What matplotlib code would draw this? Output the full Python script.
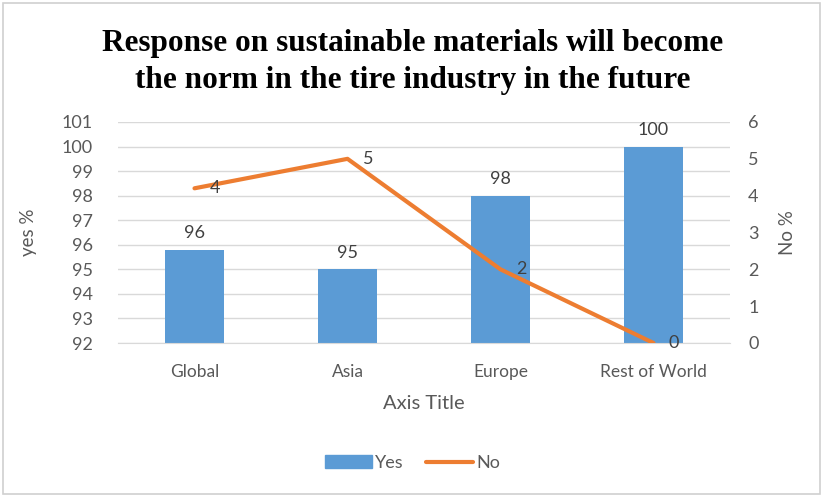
import matplotlib
matplotlib.use("Agg")
import matplotlib.pyplot as plt
from matplotlib.patches import Rectangle

categories = ["Global", "Asia", "Europe", "Rest of World"]
yes_pct = [95.8, 95, 98, 100]
no_pct = [4.2, 5, 2, 0]
yes_ticks = list(range(92, 102))
no_ticks = list(range(0, 7))

BLUE = "#5B9BD5"
ORANGE = "#ED7D31"
GRID = "#D9D9D9"
TICK = "#595959"
LABEL = "#404040"
FONT = ["Lato", "DejaVu Sans"]

plt.rcParams["font.family"] = FONT

fig = plt.figure(figsize=(8.25, 4.97), dpi=100)
ax = fig.add_axes([118 / 825, 1 - 343 / 497, (730 - 118) / 825, (343 - 122) / 497])
ax2 = ax.twinx()

x = list(range(len(categories)))
ax.bar(x, yes_pct, width=0.39, color=BLUE, zorder=2)
ax.set_ylim(92, 101)
ax.set_xlim(-0.5, len(categories) - 0.5)
ax.set_yticks(yes_ticks)
ax.grid(axis="y", color=GRID, linewidth=1, zorder=0)
ax.set_axisbelow(True)
for xi, v in zip(x, yes_pct):
    ax.text(xi, v + 0.35, f"{v:.0f}", ha="center", va="bottom",
            fontsize=13, color=LABEL, zorder=5)

ax2.plot(x, no_pct, color=ORANGE, linewidth=3, solid_capstyle="round", zorder=4)
ax2.set_ylim(0, 6)
ax2.set_yticks(no_ticks)
for xi, v in zip(x, no_pct):
    ax2.text(xi + 0.1, v, f"{v:.0f}", ha="left", va="center",
             fontsize=13, color=LABEL, zorder=5)

for a in (ax, ax2):
    for s in a.spines.values():
        s.set_visible(False)
    a.tick_params(length=0, colors=TICK, labelsize=13)
ax.spines["bottom"].set_visible(True)
ax.spines["bottom"].set_color(GRID)
ax.set_xticks(x)
ax.set_xticklabels(categories)
ax.tick_params(axis="x", pad=15, labelsize=12.5)
ax.tick_params(axis="y", pad=18)
ax2.yaxis.set_tick_params(which="major", pad=13, right=True, labelright=True)

ax.set_xlabel("Axis Title", fontsize=14.5, color=TICK, labelpad=11)
ax.set_ylabel("yes %", fontsize=13.5, color=TICK, labelpad=18)
ax2.set_ylabel("No %", fontsize=13.5, color=TICK, labelpad=15)

fig.text(0.5, 1 - 62 / 497,
         "Response on sustainable materials will become\nthe norm in the tire industry in the future",
         ha="center", va="center", fontsize=22.5, fontweight="bold",
         family=["Liberation Serif", "DejaVu Serif"], color="black", linespacing=1.32)

# legend
handles = [Rectangle((0, 0), 1, 1, color=BLUE),
           plt.Line2D([0], [0], color=ORANGE, linewidth=3, solid_capstyle="round")]
fig.legend(handles, ["Yes", "No"], loc="center", bbox_to_anchor=(0.5, 1 - 463 / 497),
           ncol=2, frameon=False, fontsize=13, labelcolor=TICK,
           handlelength=2.6, handleheight=0.7, columnspacing=1.2, handletextpad=0.2)

# chart frame
fig.patches.append(Rectangle((0.004, 0.006), 0.99, 0.988, transform=fig.transFigure,
                             fill=False, edgecolor="#D0D0D0", linewidth=1.2))

fig.savefig("out.png", dpi=100)
